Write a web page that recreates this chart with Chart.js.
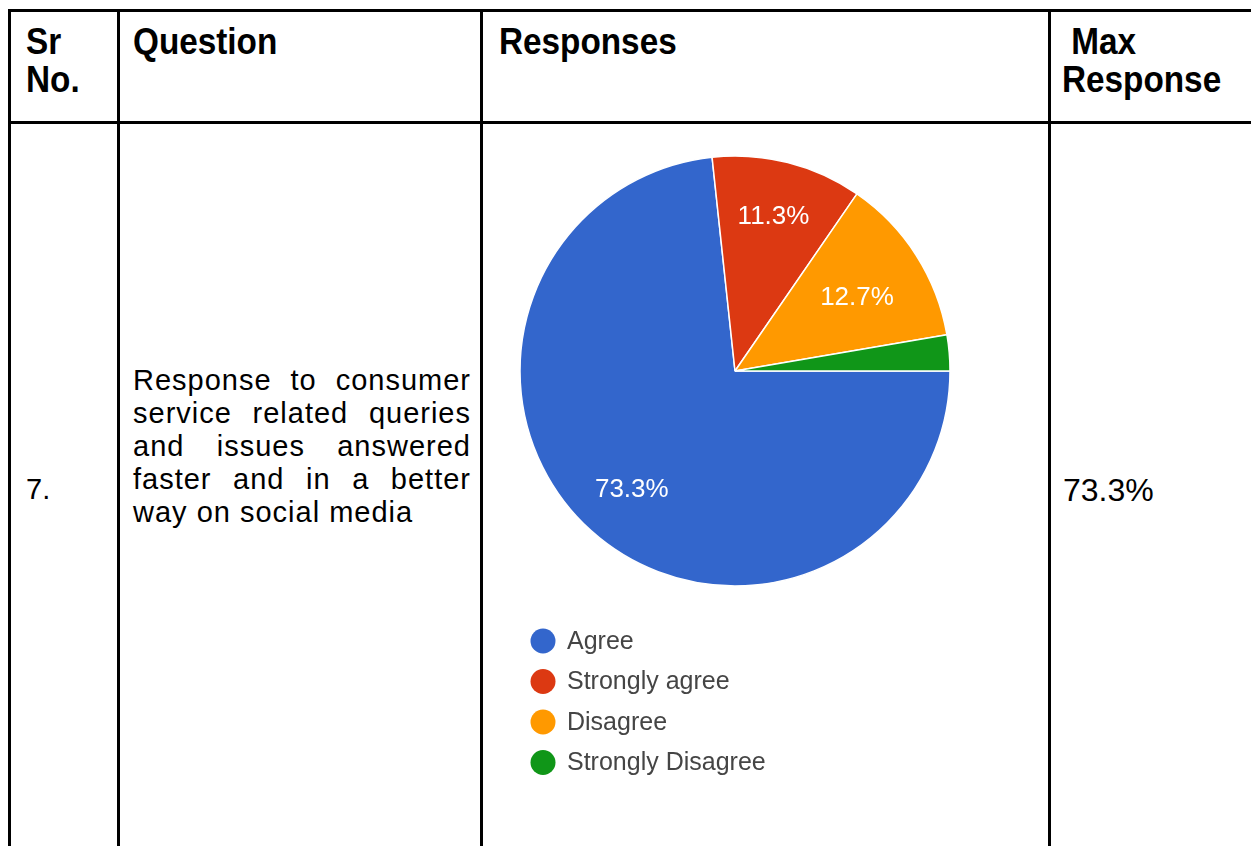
<!DOCTYPE html>
<html>
<head>
<meta charset="utf-8">
<script src="https://cdn.jsdelivr.net/npm/chart.js@4.4.1/dist/chart.umd.min.js"></script>
<style>
  html, body { margin: 0; padding: 0; background: #fff; overflow: hidden; }
  body { width: 1251px; height: 846px; position: relative; }
  .rule { position: absolute; background: #000; }
  .cell { position: absolute; color: #000; font-family: "Liberation Sans", Arial, sans-serif; white-space: nowrap; }
  .head { font-weight: bold; font-size: 37px; line-height: 38px; transform: scaleX(0.9); transform-origin: left top; }
  .body { font-size: 29px; line-height: 33px; }
  .question { text-align: justify; width: 338px; letter-spacing: 1px; white-space: normal; }
  .max { font-size: 32px; }
  #responseCanvas { position: absolute; left: 483px; top: 124px; filter: blur(0.4px); }
</style>
</head>
<body>
  <!-- table rules -->
  <div class="rule" style="left:8px; top:9px; width:1300px; height:3px"></div>
  <div class="rule" style="left:8px; top:121px; width:1300px; height:3px"></div>
  <div class="rule" style="left:8px; top:9px; width:3px; height:900px"></div>
  <div class="rule" style="left:117px; top:9px; width:3px; height:900px"></div>
  <div class="rule" style="left:480px; top:9px; width:3px; height:900px"></div>
  <div class="rule" style="left:1048px; top:9px; width:3px; height:900px"></div>

  <!-- header row -->
  <div class="cell head" style="left:26px; top:23px">Sr<br>No.</div>
  <div class="cell head" style="left:133px; top:23px">Question</div>
  <div class="cell head" style="left:499px; top:23px">Responses</div>
  <div class="cell head" style="left:1062px; top:23px">&nbsp;Max<br>Response</div>

  <!-- answer row -->
  <div class="cell body" style="left:26px; top:473px">7.</div>
  <div class="cell body question" style="left:133px; top:364px">Response to consumer service related queries and issues answered faster and in a better way on social media</div>
  <div class="cell body max" style="left:1063px; top:474px">73.3%</div>

  <canvas id="responseCanvas" width="565" height="722"></canvas>

<script>
const responseLabels = ['Agree', 'Strongly agree', 'Disagree', 'Strongly Disagree'];
const responseShares = [73.3, 11.3, 12.7, 2.7];
const sliceColors = ['#3366cc', '#dc3912', '#ff9900', '#109618'];

// percentage text inside the bigger slices, pulled in so the text box stays in the slice
const sliceLabelPlugin = {
    id: 'sliceLabels',
    afterDatasetsDraw(chart) {
        const ctx = chart.ctx;
        const meta = chart.getDatasetMeta(0);
        const fontSize = 26;
        ctx.save();
        ctx.fillStyle = '#ffffff';
        ctx.font = fontSize + 'px "Liberation Sans", Arial, sans-serif';
        ctx.textAlign = 'center';
        ctx.textBaseline = 'middle';
        meta.data.forEach((arc, i) => {
            const value = chart.data.datasets[0].data[i];
            if (value < 5) return;
            const text = value.toFixed(1) + '%';
            const p = arc.getProps(['x', 'y', 'startAngle', 'endAngle', 'outerRadius'], true);
            const mid = (p.startAngle + p.endAngle) / 2;
            const halfW = ctx.measureText(text).width / 2;
            const halfH = fontSize * 0.4;
            const reach = Math.abs(Math.cos(mid)) * halfW + Math.abs(Math.sin(mid)) * halfH;
            const r = p.outerRadius * 0.855 - reach;
            // digits sit above the em-box middle, so nudge down a little
            ctx.fillText(text, p.x + Math.cos(mid) * r - 2, p.y + Math.sin(mid) * r + 6);
        });
        ctx.restore();
    }
};

// vertical legend under the pie
const columnLegendPlugin = {
    id: 'columnLegend',
    afterDraw(chart) {
        const ctx = chart.ctx;
        const colors = chart.data.datasets[0].backgroundColor;
        ctx.save();
        ctx.font = '25px "Liberation Sans", Arial, sans-serif';
        ctx.textBaseline = 'middle';
        chart.data.labels.forEach((label, i) => {
            const y = 517 + i * 40.5;
            ctx.beginPath();
            ctx.arc(60, y, 12.5, 0, Math.PI * 2);
            ctx.fillStyle = colors[i];
            ctx.fill();
            ctx.fillStyle = '#454545';
            ctx.fillText(label, 84, y + 1);
        });
        ctx.restore();
    }
};

new Chart(document.getElementById('responseCanvas'), {
    type: 'pie',
    data: {
        labels: responseLabels,
        datasets: [{
            data: responseShares,
            backgroundColor: sliceColors,
            borderColor: '#ffffff',
            borderWidth: 1.5
        }]
    },
    options: {
        responsive: false,
        animation: false,
        rotation: 90,
        radius: 215,
        layout: { padding: { left: 0, right: 61, top: 0, bottom: 228 } },
        plugins: {
            legend: { display: false },
            tooltip: { enabled: false }
        }
    },
    plugins: [sliceLabelPlugin, columnLegendPlugin]
});
</script>
</body>
</html>
